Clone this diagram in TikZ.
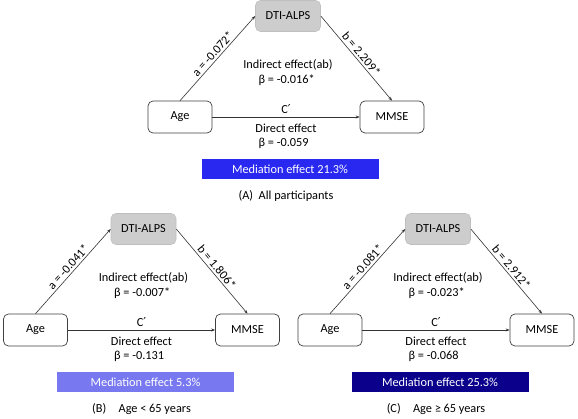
\documentclass[tikz,border=0pt]{standalone}
\usepackage{fontspec}
\setmainfont{Carlito}
\newfontfamily\primefont{DejaVu Sans}
\usetikzlibrary{arrows.meta}

\begin{document}
\begin{tikzpicture}[x=1pt,y=-1pt,
  font=\fontsize{12.3}{14}\selectfont,
  varbox/.style={draw=black!75,line width=0.7pt,rounded corners=5pt,
    minimum width=64pt,minimum height=32pt,fill=white},
  medbox/.style={draw=black!25,line width=0.6pt,rounded corners=5pt,
    minimum width=65pt,minimum height=31pt,fill=alpsGray},
  path/.style={-{Stealth[length=4pt,width=3pt]},line width=0.6pt,draw=black!80},
  coef/.style={sloped,above,midway,inner sep=2pt}]
\definecolor{alpsGray}{HTML}{CDCDCD}
\definecolor{medAll}{HTML}{2828F0}
\definecolor{medYoung}{HTML}{7878F0}
\definecolor{medOld}{HTML}{0A008C}
\useasboundingbox (0,0) rectangle (578,419);
% one panel per group: shift / a / b / indirect / direct / share / colour / caption
\foreach \px/\py/\pa/\pb/\pab/\pc/\pct/\col/\cap in {
  180/117/-0.072/2.209/-0.016/-0.059/21.3/medAll/{(A)\ \ All participants},
  35.5/330/-0.041/1.806/-0.007/-0.131/5.3/medYoung/{(B)\quad Age < 65 years},
  330/330/-0.081/2.912/-0.023/-0.068/25.3/medOld/{(C)\quad Age ≥ 65 years}} {
  \begin{scope}[shift={(\px,\py)}]
  \node[varbox] (age) at (0,0) {Age};
  \node[varbox] (mmse) at (212,0) {MMSE};
  \node[medbox] (alps) at (108,-101) {DTI-ALPS};
  \draw[path] (age.north) -- node[coef] {a = \pa*} (alps.west);
  \draw[path] (alps.east) -- node[coef] {b = \pb*} (mmse.north);
  \draw[path] (age.east) -- (mmse.west);
  \node (cprime) at (106,-8) {C{\primefont ′}};
  \node (direct) at (106,11) {Direct effect};
  \node[anchor=west] (dbeta) at (75,26) {β = \pc};
  \node (indirect) at (108,-52) {Indirect effect(ab)};
  \node[anchor=west] (ibeta) at (75,-37) {β = \pab*};
  \node[fill=\col,text=white,minimum width=177pt,minimum height=20pt,
    inner sep=0pt] (share) at (110,52) {Mediation effect \pct\%};
  \node (caption) at (106,79) {\cap};
  \end{scope}
}
\end{tikzpicture}
\end{document}
